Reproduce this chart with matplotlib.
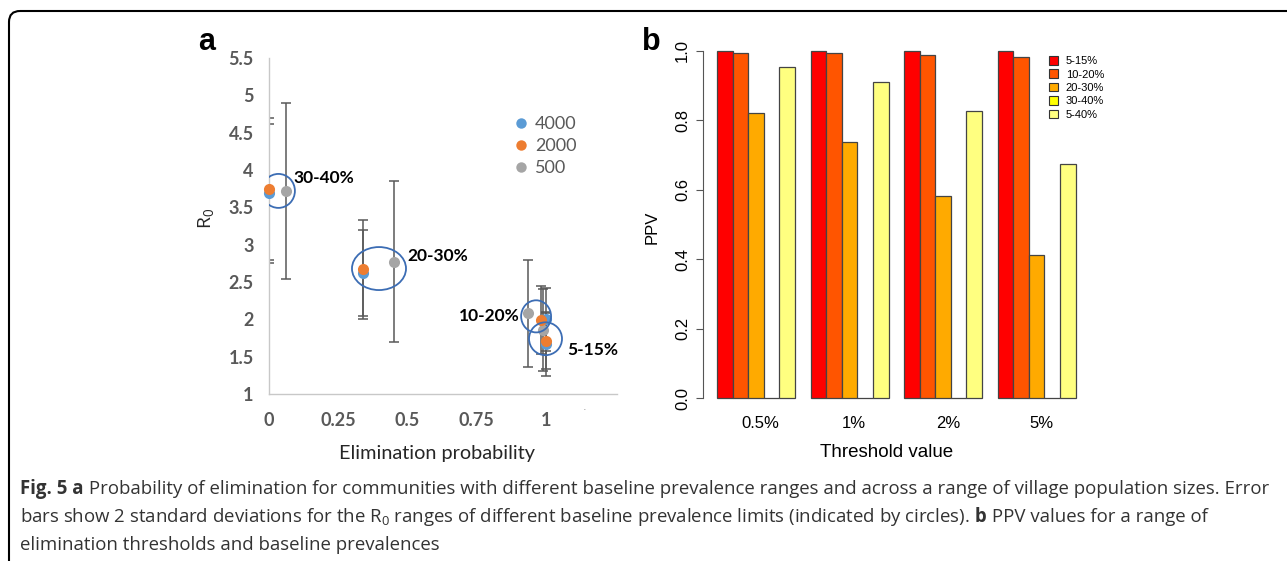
import numpy as np
import matplotlib
matplotlib.use('Agg')
import matplotlib.pyplot as plt
from matplotlib.patches import Ellipse, FancyBboxPatch, Patch
from matplotlib.lines import Line2D

plt.rcParams['mathtext.fontset'] = 'custom'
plt.rcParams['mathtext.rm'] = 'Open Sans'
plt.rcParams['mathtext.bf'] = 'Open Sans:bold'
plt.rcParams['mathtext.default'] = 'rm'

# panel a: elimination probability vs R0, by village size
groups_a = ['30-40%', '20-30%', '10-20%', '5-15%']
p_4000 = [0.0, 0.34, 1.0, 1.0]
r0_4000 = [3.69, 2.62, 2.00, 1.67]
err_4000 = [0.93, 0.57, 0.42, 0.43]
p_2000 = [0.0, 0.34, 0.982, 1.0]
r0_2000 = [3.74, 2.67, 1.99, 1.71]
err_2000 = [0.95, 0.66, 0.45, 0.38]
p_500 = [0.06, 0.45, 0.935, 0.99]
r0_500 = [3.72, 2.77, 2.08, 1.86]
err_500 = [1.18, 1.08, 0.72, 0.55]

# circles round each prevalence group (data coords)
ell_x = [0.034, 0.397, 0.964, 0.998]
ell_y = [3.72, 2.68, 2.04, 1.74]
ell_w = [0.119, 0.195, 0.108, 0.119]
ell_h = [0.455, 0.576, 0.43, 0.44]

# panel b: PPV by threshold and baseline prevalence
thresholds = ['0.5%', '1%', '2%', '5%']
prev_labels = ['5-15%', '10-20%', '20-30%', '30-40%', '5-40%']
ppv_5_15 = [1.0, 1.0, 1.0, 1.0]
ppv_10_20 = [0.995, 0.993, 0.989, 0.982]
ppv_20_30 = [0.820, 0.737, 0.583, 0.413]
ppv_30_40 = [0.0, 0.0, 0.0, 0.0]
ppv_5_40 = [0.955, 0.912, 0.828, 0.675]
heat = ['#FF0000', '#FF5500', '#FFAA00', '#FFFF00', '#FFFF80']

W, H = 1287, 561
fig = plt.figure(figsize=(W / 100, H / 100), dpi=100)

# background layer in pixel coords (border + caption)
bg = fig.add_axes([0, 0, 1, 1])
bg.set_xlim(0, W)
bg.set_ylim(H, 0)
bg.axis('off')
bg.add_patch(FancyBboxPatch((9, 11), 1400, 700, boxstyle='round,pad=0,rounding_size=11',
                            fc='none', ec='black', lw=1.5))

# caption: pieces of (text, bold) laid one after another on each line
cap_lines = [
    [('Fig. 5 a', True), (' Probability of elimination for communities with different baseline '
                          'prevalence ranges and across a range of village population sizes. Error', False)],
    [('bars show 2 standard deviations for the R$_0$ ranges of different baseline prevalence '
      'limits (indicated by circles).', False), (' b', True), (' PPV values for a range of', False)],
    [('elimination thresholds and baseline prevalences', False)],
]
cap_y = [494, 522, 550]
renderer = fig.canvas.get_renderer()
for pieces, yb in zip(cap_lines, cap_y):
    x = 20
    for txt, bold in pieces:
        t = bg.text(x, yb, txt, fontsize=13.4, family='Open Sans', color='#333333',
                    fontweight='bold' if bold else 'normal', va='baseline', ha='left')
        x += t.get_window_extent(renderer).width

# ---------------- panel a ----------------
grey_txt = '#595959'
ax1 = fig.add_axes([269 / W, (H - 394) / H, (617 - 269) / W, (394 - 58) / H])
ax1.set_xlim(0, 1.256)
ax1.set_ylim(1, 5.5)
for s in ['top', 'right']:
    ax1.spines[s].set_visible(False)
for s in ['left', 'bottom']:
    ax1.spines[s].set_color('#C8C8C8')
    ax1.spines[s].set_linewidth(1)
ax1.set_xticks([0, 0.25, 0.5, 0.75, 1])
ax1.set_xticklabels(['0', '0.25', '0.5', '0.75', '1'])
ax1.set_yticks(np.arange(1, 5.6, 0.5))
ax1.set_yticklabels(['1', '1.5', '2', '2.5', '3', '3.5', '4', '4.5', '5', '5.5'])
ax1.tick_params(length=0, labelcolor=grey_txt, labelsize=13)
ax1.tick_params(axis='x', pad=13)
ax1.tick_params(axis='y', pad=11)
for lab in ax1.get_xticklabels() + ax1.get_yticklabels():
    lab.set_fontweight('bold')
    lab.set_family('Lato')
ax1.text(1.14, 0.78, '.', fontsize=8, color='#999999', ha='center', clip_on=False)

series = [(p_500, r0_500, err_500, '#A5A5A5', '500'),
          (p_4000, r0_4000, err_4000, '#5B9BD5', '4000'),
          (p_2000, r0_2000, err_2000, '#ED7D31', '2000')]
for px, py, pe, col, lab in series:
    ax1.errorbar(px, py, yerr=pe, fmt='none', ecolor='#595959', elinewidth=1.1,
                 capsize=3.5, capthick=1.1, zorder=2)
for px, py, pe, col, lab in series:
    ax1.plot(px, py, 'o', ms=8, color=col, mec='none', zorder=4, clip_on=False)

for ex, ey, ew, eh in zip(ell_x, ell_y, ell_w, ell_h):
    ax1.add_patch(Ellipse((ex, ey), ew, eh, fc='none', ec='#3C6DB4', lw=1.3, zorder=5))

lab_kw = dict(fontsize=12.5, fontweight='bold', family='Lato', color='black', va='center')
ax1.text(0.087, 3.89, groups_a[0], ha='left', **lab_kw)
ax1.text(0.498, 2.85, groups_a[1], ha='left', **lab_kw)
ax1.text(0.903, 2.04, groups_a[2], ha='right', **lab_kw)
ax1.text(1.076, 1.59, groups_a[3], ha='left', **lab_kw)

handles_a = [Line2D([], [], ls='none', marker='o', ms=7.5, color=c, mec='none')
             for c in ['#5B9BD5', '#ED7D31', '#A5A5A5']]
leg_a = ax1.legend(handles_a, ['4000', '2000', '500'], loc='upper left',
                   bbox_to_anchor=(514 / W, (H - 116) / H), bbox_transform=fig.transFigure,
                   frameon=False, prop={'family': 'Lato', 'size': 13}, labelspacing=0.33,
                   handlelength=0.8, handletextpad=0.35, borderpad=0, borderaxespad=0)
for t in leg_a.get_texts():
    t.set_color(grey_txt)

bg.text(437, 453, 'Elimination probability', fontsize=14.3, family='Lato', color='#262626',
        ha='center', va='center')
bg.text(206, 218, 'R$_0$', fontsize=14, family='Open Sans', color='#262626',
        ha='center', va='center', rotation=90)
bg.text(207, 42, 'a', fontsize=22, fontweight='bold', family='Liberation Sans',
        ha='center', va='center')

# ---------------- panel b ----------------
ax2 = fig.add_axes([702.6 / W, (H - 411.9) / H, (1090 - 702.6) / W, (411.9 - 37.1) / H])
ax2.set_xlim(0.08, 24.92)
ax2.set_ylim(-0.04, 1.04)
ppv_series = [ppv_5_15, ppv_10_20, ppv_20_30, ppv_30_40, ppv_5_40]
gidx = np.arange(len(thresholds))
for j, vals in enumerate(ppv_series):
    ax2.bar(gidx * 6 + 1.5 + j, vals, width=1, color=heat[j], edgecolor='#444444', lw=0.9)
for s in ['top', 'right', 'bottom']:
    ax2.spines[s].set_visible(False)
ax2.spines['left'].set_bounds(0, 1)
ax2.spines['left'].set_color('#555555')
ax2.set_yticks(np.arange(0, 1.01, 0.2))
ax2.set_yticklabels(['0.0', '0.2', '0.4', '0.6', '0.8', '1.0'], rotation=90, va='center',
                    family='Liberation Sans', fontsize=12)
ax2.tick_params(axis='y', length=5, color='#555555', pad=4)
ax2.set_xticks(gidx * 6 + 3.5 + 0.3)
ax2.set_xticklabels(thresholds, family='Liberation Sans', fontsize=12)
ax2.tick_params(axis='x', length=0, pad=3)

handles_b = [Patch(fc=c, ec='#333333', lw=0.8) for c in heat]
ax2.legend(handles_b, prev_labels, loc='upper left', bbox_to_anchor=(1049 / W, (H - 56) / H),
           bbox_transform=fig.transFigure, frameon=False,
           prop={'family': 'Liberation Sans', 'size': 8}, handlelength=0.8, handleheight=0.8,
           handletextpad=0.7, labelspacing=0.3, borderpad=0, borderaxespad=0)

bg.text(887, 452, 'Threshold value', fontsize=13.5, family='Liberation Sans',
        ha='center', va='center')
bg.text(652, 227, 'PPV', fontsize=12, family='Liberation Sans', ha='center', va='center',
        rotation=90)
bg.text(651, 42, 'b', fontsize=22, fontweight='bold', family='Liberation Sans',
        ha='center', va='center')

fig.savefig('out.png', dpi=100)
